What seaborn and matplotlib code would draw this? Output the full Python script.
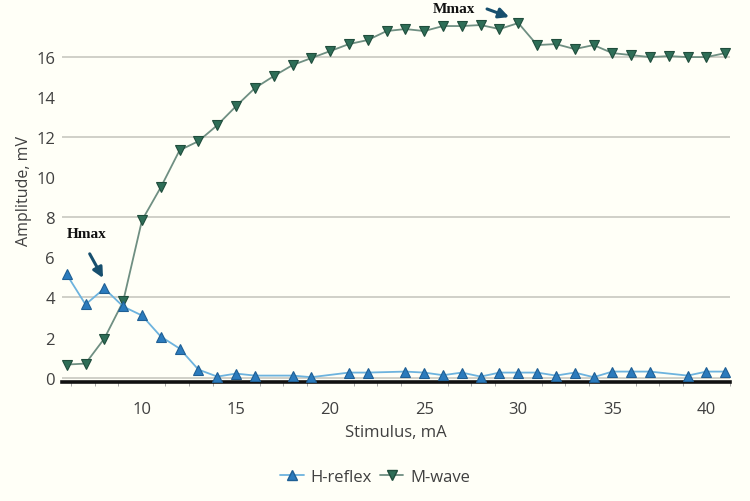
"""H-reflex / M-wave recruitment curve."""

import matplotlib
matplotlib.use("Agg")
import matplotlib.pyplot as plt
from matplotlib.lines import Line2D
from matplotlib.ticker import MultipleLocator
import pandas as pd
import seaborn as sns

# H-reflex (no samples at 17, 20, 23, 38 mA)
h_stim = [6, 7, 8, 9, 10, 11, 12, 13, 14, 15, 16, 18, 19, 21, 22, 24, 25, 26, 27,
          28, 29, 30, 31, 32, 33, 34, 35, 36, 37, 39, 40, 41]
h_amp = [5.15, 3.65, 4.45, 3.55, 3.1, 2.05, 1.45, 0.4, 0.05, 0.2, 0.1, 0.1, 0.02,
         0.25, 0.25, 0.3, 0.25, 0.12, 0.25, 0.05, 0.25, 0.25, 0.25, 0.1, 0.25, 0.02,
         0.3, 0.3, 0.3, 0.1, 0.3, 0.3]

m_stim = list(range(6, 42))
m_amp = [0.65, 0.7, 1.95, 3.8, 7.85, 9.5, 11.35, 11.8, 12.6, 13.55, 14.45, 15.05,
         15.6, 15.95, 16.3, 16.65, 16.85, 17.3, 17.4, 17.3, 17.55, 17.55, 17.6, 17.4,
         17.7, 16.6, 16.65, 16.4, 16.6, 16.2, 16.1, 16.0, 16.05, 16.0, 16.0, 16.2]

H_LINE, H_MARK = "#6db3de", "#2b7bbd"
M_LINE, M_MARK = "#6f8f82", "#2e6e57"
BG = "#fffff7"
TXT = "#404040"


def main():
    sns.set_theme(style="white")
    plt.rcParams["font.family"] = ["Open Sans", "DejaVu Sans"]

    h = pd.DataFrame({"stim": h_stim, "amp": h_amp})
    m = pd.DataFrame({"stim": m_stim, "amp": m_amp})

    fig = plt.figure(figsize=(7.5, 5.02), dpi=100, facecolor=BG)
    ax = fig.add_axes([62 / 750, (502 - 383) / 502, (730 - 62) / 750, 383 / 502])
    ax.set_facecolor(BG)

    sns.lineplot(data=h, x="stim", y="amp", ax=ax, color=H_LINE, lw=1.3,
                 marker="^", ms=7.5, mfc=H_MARK, mec="#1f5f94", mew=0.8, zorder=4)
    sns.lineplot(data=m, x="stim", y="amp", ax=ax, color=M_LINE, lw=1.3,
                 marker="v", ms=7.5, mfc=M_MARK, mec="#1f4d3c", mew=0.8, zorder=3)

    ax.set_xlim(5.75, 41.25)
    ax.set_ylim(-0.22, 18.9)
    ax.set_yticks(range(0, 17, 2))
    ax.xaxis.set_major_locator(MultipleLocator(5))
    ax.xaxis.set_minor_locator(MultipleLocator(1.25))
    for g in [0, 4, 8, 12, 16]:
        ax.axhline(g, color="#c4c4bc", lw=1.1, zorder=1)

    for s in ["top", "right", "left"]:
        ax.spines[s].set_visible(False)
    ax.spines["bottom"].set_color("#111111")
    ax.spines["bottom"].set_linewidth(2.6)
    ax.tick_params(axis="x", which="major", length=5, width=0.8, color="#777777",
                   labelsize=12, labelcolor=TXT, pad=9)
    ax.tick_params(axis="x", which="minor", length=3, width=0.6, color="#999999", bottom=True)
    ax.tick_params(axis="y", length=0, labelsize=12, labelcolor=TXT, pad=5)

    ax.set_xlabel("Stimulus, mA", fontsize=12, color=TXT, labelpad=5)
    ax.set_ylabel("Amplitude, mV", fontsize=11.5, color=TXT, labelpad=3)

    arrow = dict(arrowstyle="-|>", color="#174f6e", lw=2.2, mutation_scale=15)
    ax.annotate("", xy=(8.0, 4.85), xytext=(7.15, 6.3), arrowprops=arrow)
    ax.text(7.05, 7.2, "Hmax", family="Liberation Serif", weight="bold",
            fontsize=11, color="#111111", ha="center", va="center")
    ax.annotate("", xy=(29.65, 17.95), xytext=(28.2, 18.45), arrowprops=arrow)
    ax.text(26.6, 18.45, "Mmax", family="Liberation Serif", weight="bold",
            fontsize=11, color="#111111", ha="center", va="center")

    handles = [
        Line2D([], [], color=H_LINE, lw=1.3, marker="^", ms=6.5, mfc=H_MARK, mec="#1f5f94"),
        Line2D([], [], color=M_LINE, lw=1.3, marker="v", ms=6.5, mfc=M_MARK, mec="#1f4d3c"),
    ]
    fig.legend(handles, ["H-reflex", "M-wave"], loc="center", bbox_to_anchor=(0.5, 24 / 502),
               ncol=2, frameon=False, fontsize=12, labelcolor=TXT, handlelength=1.4,
               handletextpad=0.4, columnspacing=0.5)

    fig.savefig("out.png", dpi=100, facecolor=BG)
    plt.close(fig)


if __name__ == "__main__":
    main()
